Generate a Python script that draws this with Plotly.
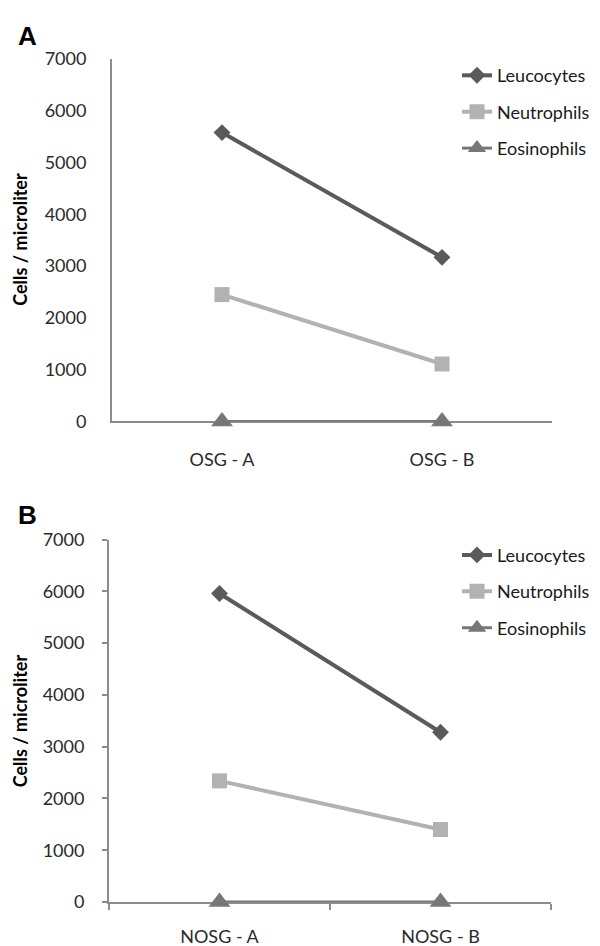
import plotly.graph_objects as go

# ---- data ----
cats_a = ["OSG - A", "OSG - B"]
cats_b = ["NOSG - A", "NOSG - B"]
series_names = ["Leucocytes", "Neutrophils", "Eosinophils"]
leuco_a = [5580, 3170]
neutro_a = [2450, 1110]
eosino_a = [0, 0]
leuco_b = [5960, 3280]
neutro_b = [2340, 1400]
eosino_b = [0, 0]
y_ticks = [0, 1000, 2000, 3000, 4000, 5000, 6000, 7000]

colors = ["#5a5a5a", "#b2b2b2", "#777777"]
symbols = ["diamond", "square", "triangle-up"]
msizes = [13, 15, 19]
widths = [4, 4, 3]

FONT = "Lato, 'Open Sans', sans-serif"
H = 946
W = 600

fig = go.Figure()

panels = [
    (cats_a, [leuco_a, neutro_a, eosino_a], "x", "y", "legend"),
    (cats_b, [leuco_b, neutro_b, eosino_b], "x2", "y2", "legend2"),
]
for cats, vals, xa, ya, lg in panels:
    for i, name in enumerate(series_names):
        fig.add_trace(go.Scatter(
            x=cats, y=vals[i], name=name, mode="lines+markers",
            line=dict(color=colors[i], width=widths[i]),
            marker=dict(symbol=symbols[i], size=msizes[i], color=colors[i]),
            xaxis=xa, yaxis=ya, legend=lg, legendgroup=f"{lg}{i}",
            cliponaxis=False,
        ))

def py(px):
    return 1 - px / H

axis_col = "#8c8c8c"
tickfont = dict(family=FONT, size=18, color="#2a2a2a")

common_y = dict(range=[0, 7000], tickvals=y_ticks, showgrid=False, zeroline=False,
                showline=True, linecolor=axis_col, linewidth=2, tickfont=tickfont,
                layer="below traces")
common_x = dict(type="category", range=[-0.5, 1.5], showgrid=False, zeroline=False,
                showline=True, linecolor=axis_col, linewidth=2, tickfont=tickfont,
                layer="below traces")

legend_font = dict(family=FONT, size=18, color="#1a1a1a")

fig.update_layout(
    width=W, height=H, margin=dict(l=0, r=0, t=0, b=0),
    paper_bgcolor="white", plot_bgcolor="white",
    xaxis=dict(common_x, domain=[104 / W, 544 / W], anchor="y", ticks="",
               ticklabelstandoff=21),
    yaxis=dict(common_y, domain=[py(411), py(40)], anchor="x", ticks="",
               ticklabelstandoff=20),
    xaxis2=dict(common_x, domain=[101 / W, 543 / W], anchor="y2", ticks="outside",
                tickson="boundaries", ticklen=6, tickcolor=axis_col, tickwidth=2,
                ticklabelstandoff=17),
    yaxis2=dict(common_y, domain=[py(903), py(532)], anchor="x2", ticks="outside",
                ticklen=5, tickcolor=axis_col, tickwidth=2, ticklabelstandoff=14),
    legend=dict(x=449 / W, y=py(38), xanchor="left", yanchor="top",
                font=legend_font, itemwidth=30, traceorder="grouped",
                tracegroupgap=10, bgcolor="rgba(0,0,0,0)"),
    legend2=dict(x=449 / W, y=py(529), xanchor="left", yanchor="top",
                 font=legend_font, itemwidth=30, traceorder="grouped",
                 tracegroupgap=10, bgcolor="rgba(0,0,0,0)"),
    showlegend=True,
)

ann = []
for letter, y in [("A", 16), ("B", 507)]:
    ann.append(dict(text=f"<b>{letter}</b>", x=8 / W, y=py(y), xref="paper", yref="paper",
                    xanchor="left", yanchor="middle", showarrow=False,
                    font=dict(family="Liberation Sans, Arial, sans-serif", size=26, color="black")))
for yc in [225, 718]:
    ann.append(dict(text="<b>Cells / microliter</b>", x=12 / W, y=py(yc), xref="paper", yref="paper",
                    xanchor="center", yanchor="middle", textangle=-90, showarrow=False,
                    font=dict(family=FONT, size=18, color="black")))
fig.update_layout(annotations=ann)

fig.write_html("out.html")
